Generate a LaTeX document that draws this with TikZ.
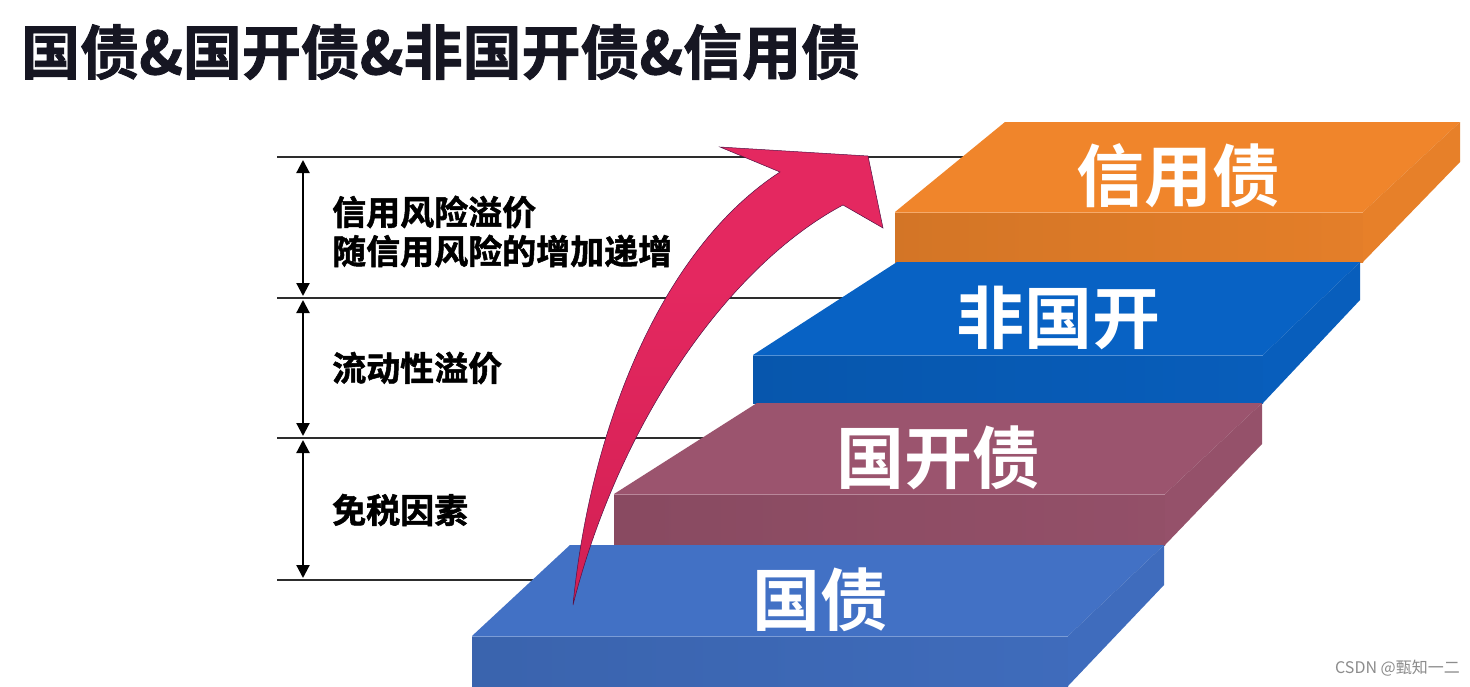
\documentclass[tikz,border=0pt]{standalone}
\usepackage{fontspec}
\usetikzlibrary{arrows.meta}
\newfontfamily\cjk{Noto Sans CJK SC}
\newfontfamily\cjkb{Noto Sans CJK SC Bold}
\newfontfamily\cjkh{Noto Sans CJK SC Bold}[FakeBold=1.5]
\definecolor{gzC}{RGB}{66,113,197}
\definecolor{gkC}{RGB}{155,84,110}
\definecolor{fgC}{RGB}{8,98,196}
\definecolor{xyC}{RGB}{240,133,43}
\definecolor{arTop}{RGB}{228,40,96}
\definecolor{arMid}{RGB}{212,32,84}
\definecolor{arBot}{RGB}{105,20,85}
\definecolor{lineC}{RGB}{45,45,45}
\definecolor{titleC}{RGB}{22,22,34}
\pgfdeclareverticalshading{arrowshade}{100bp}{color(0bp)=(arBot); color(28bp)=(arMid); color(60bp)=(arTop); color(100bp)=(arTop)}
\newcommand\slab[8]{%
  \fill[#8] (#1,#5) -- (#2,#5) -- (#4,#6) -- (#3,#6) -- cycle;
  \shade[left color=#8!88!black, right color=#8!95!black] (#1,#5) -- (#2,#5) -- (#2,{#5+#7}) -- (#1,{#5+#7}) -- cycle;
  \fill[#8!96!black] (#2,#5) -- (#4,#6) -- (#4,{#6+#7-10}) -- (#2,{#5+#7}) -- cycle;
  \draw[#8!70!white, line width=1pt] (#1,#5) -- (#2,#5);
}
\tikzset{
  hline/.style={draw=lineC, line width=2pt},
  dimarrow/.style={draw=black, line width=2.2pt, {Triangle[length=13pt,width=13pt]}-{Triangle[length=13pt,width=13pt]}},
  sidelabel/.style={anchor=west, inner sep=0pt, font=\cjkh\fontsize{34}{39}\selectfont, text=black},
  steplabel/.style={inner sep=0pt, font=\cjkb\fontsize{68}{72}\selectfont, text=white},
}
\begin{document}
\begin{tikzpicture}[x=1pt,y=-1pt]
\useasboundingbox[fill=white] (0,0) rectangle (1470,686);
% title
\node[anchor=west, inner sep=0pt, font=\cjkh\fontsize{59}{64}\selectfont, text=titleC] (title) at (21,52) {国债\&国开债\&非国开债\&信用债};
% level lines
\coordinate (l1a) at (277,157); \coordinate (l1b) at (990,157);
\coordinate (l2a) at (277,298); \coordinate (l2b) at (860,298);
\coordinate (l3a) at (277,438); \coordinate (l3b) at (720,438);
\coordinate (l4a) at (277,580); \coordinate (l4b) at (580,580);
\draw[hline] (l1a) -- (l1b);
\draw[hline] (l2a) -- (l2b);
\draw[hline] (l3a) -- (l3b);
\draw[hline] (l4a) -- (l4b);
% dimension arrows
\coordinate (d1a) at (303,160); \coordinate (d1b) at (303,296);
\coordinate (d2a) at (303,300); \coordinate (d2b) at (303,436);
\coordinate (d3a) at (303,440); \coordinate (d3b) at (303,578);
\draw[dimarrow] (d1a) -- (d1b);
\draw[dimarrow] (d2a) -- (d2b);
\draw[dimarrow] (d3a) -- (d3b);
% side labels
\node[sidelabel] (s1) at (332,212) {信用风险溢价};
\node[sidelabel] (s2) at (332,251) {随信用风险的增加递增};
\node[sidelabel] (s3) at (332,368) {流动性溢价};
\node[sidelabel] (s4) at (332,510) {免税因素};
% steps
\slab{895}{1363}{1005}{1460}{212}{122}{50}{xyC}
\slab{753}{1263}{897}{1360}{355}{262}{48}{fgC}
\slab{614}{1165}{757}{1262}{494}{403}{51}{gkC}
\slab{472}{1068}{570}{1164}{636}{545}{50}{gzC}
\node[steplabel] (t4) at (1178,176) {信用债};
\node[steplabel] (t3) at (1058,318) {非国开};
\node[steplabel] (t2) at (938,458) {国开债};
\node[steplabel] (t1) at (820,600) {国债};
% big curved arrow
\shade[shading=arrowshade, draw=arBot!80!black, line width=0.5pt]
  (573,605) .. controls (590,430) and (660,250) .. (780,172)
  -- (720,147) -- (868,156) -- (883,228) -- (843,205)
  .. controls (730,265) and (620,420) .. (573,605) -- cycle;
% watermark
\node[anchor=east, inner sep=0pt, font=\cjk\fontsize{16}{18}\selectfont, text=black!45] (wm) at (1460,668) {CSDN @甄知一二};
\end{tikzpicture}
\end{document}
